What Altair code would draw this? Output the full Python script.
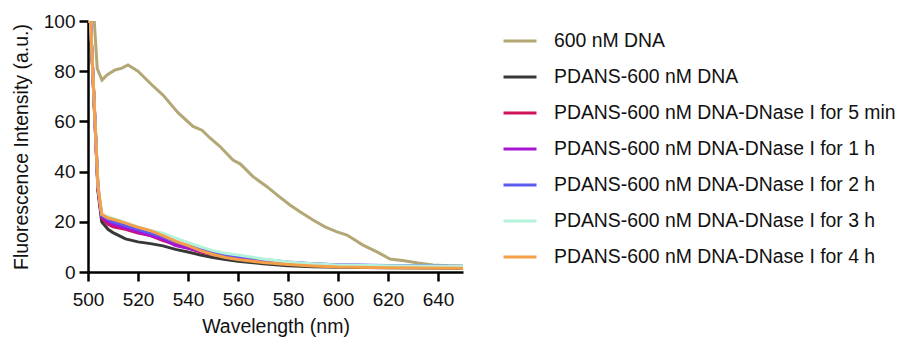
import altair as alt
import pandas as pd

series_names = [
    "600 nM DNA",
    "PDANS-600 nM DNA",
    "PDANS-600 nM DNA-DNase I for 5 min",
    "PDANS-600 nM DNA-DNase I for 1 h",
    "PDANS-600 nM DNA-DNase I for 2 h",
    "PDANS-600 nM DNA-DNase I for 3 h",
    "PDANS-600 nM DNA-DNase I for 4 h",
]
series_colors = ["#b3a776", "#383838", "#d1145c", "#a616d2", "#5c5cf0", "#b5f2da", "#f5a048"]

wl_dna = [500, 502.5, 503.7, 505.6, 507.6, 510.8, 513.6, 516, 520, 525.6, 530, 536,
          542, 545.6, 548.8, 552.8, 558, 561, 566, 571.6, 575.6, 580.8, 584.8, 590,
          594.8, 599.6, 603.6, 610, 615.6, 620.8, 626.5, 632, 638, 644, 650]
dna = [100, 100, 81, 76.5, 78.5, 80.5, 81.2, 82.5, 80, 74.5, 70.5, 63.5,
       58, 56.5, 53.4, 50, 44.6, 43, 38, 34, 30.7, 26.7, 24, 20.7,
       18, 16, 14.7, 10.7, 8, 5.2, 4.5, 3.6, 2.8, 2.5, 2.4]

wl = [500, 501, 504, 505.5, 508, 510, 515, 520, 525, 530, 535, 540, 545, 550,
      555, 560, 570, 580, 590, 600, 620, 650]
pdans = [100, 100, 32, 20, 17, 15.7, 13.2, 12, 11.3, 10.4, 9, 8, 6.8, 5.8,
         5, 4.3, 3.3, 2.5, 2.1, 1.9, 1.7, 1.5]
dnase_5min = [100, 100, 33, 21.5, 19, 18, 17, 15.5, 14.5, 12.5, 11, 9.5, 8, 7,
              6.2, 5.5, 4.3, 3.5, 2.9, 2.5, 2.2, 2.0]
dnase_1h = [100, 100, 33, 22, 20, 19, 17.5, 16, 14.5, 13, 10.5, 9.5, 8.3, 7.3,
            6.5, 5.8, 4.6, 3.8, 3.2, 2.8, 2.5, 2.2]
dnase_2h = [100, 100, 34, 22.5, 21, 20, 18.5, 17, 15.5, 14, 12, 10.5, 9, 7.8,
            7, 6.3, 5, 4, 3.3, 2.9, 2.6, 2.3]
dnase_3h = [100, 100, 34, 23, 22, 21.3, 19.8, 18, 16.5, 15.5, 13.5, 11.8, 10, 8.5,
            7.5, 6.8, 5.2, 4, 3.3, 2.8, 2.5, 2.3]
dnase_4h = [100, 100, 34, 23, 21.5, 21, 19.5, 17.8, 16.5, 14.5, 12.3, 10.5, 8.5, 7,
            5.8, 5, 3.8, 3, 2.4, 2, 1.7, 1.5]

rows = []
for w, v in zip(wl_dna, dna):
    rows.append({"wl": w, "val": v, "series": series_names[0], "order": 0})
for i, vals in enumerate([pdans, dnase_5min, dnase_1h, dnase_2h, dnase_3h, dnase_4h], start=1):
    for w, v in zip(wl, vals):
        rows.append({"wl": w, "val": v, "series": series_names[i], "order": i})
df = pd.DataFrame(rows)

FONT = "Liberation Sans"

chart = alt.Chart(df).mark_line(strokeWidth=3, clip=True).encode(
    x=alt.X("wl:Q", title="Wavelength (nm)",
            scale=alt.Scale(domain=[500, 650], nice=False, zero=False),
            axis=alt.Axis(values=[500, 520, 540, 560, 580, 600, 620, 640],
                          format="d", tickSize=9, tickWidth=2.5, domainWidth=2.5,
                          domainColor="black", tickColor="black", labelColor="#111111",
                          labelFontSize=19, labelFont=FONT, labelPadding=9,
                          titleFont=FONT, titleFontSize=19.5, titleFontWeight="normal",
                          titleColor="#111111", titlePadding=8, grid=False,
                          labelFlush=False)),
    y=alt.Y("val:Q", title="Fluorescence Intensity (a.u.)",
            scale=alt.Scale(domain=[0, 100], nice=False),
            axis=alt.Axis(values=[0, 20, 40, 60, 80, 100], tickSize=9, tickWidth=2.5,
                          domainWidth=2.5, domainColor="black", tickColor="black",
                          labelColor="#111111", labelFontSize=19, labelFont=FONT,
                          labelPadding=4, titleFont=FONT, titleFontSize=19.5,
                          titleFontWeight="normal", titleColor="#111111", titlePadding=12,
                          grid=False, labelFlush=False)),
    color=alt.Color("series:N", sort=series_names,
                    scale=alt.Scale(domain=series_names, range=series_colors),
                    legend=alt.Legend(title=None, orient="none", legendX=414, legendY=2,
                                      symbolType="stroke", symbolSize=1089,
                                      symbolStrokeWidth=3, labelFont=FONT,
                                      labelFontSize=19.4, labelColor="#111111",
                                      labelOffset=16, rowPadding=8, padding=0,
                                      labelLimit=500)),
    order=alt.Order("order:Q"),
    detail="series:N",
).properties(
    width=375, height=251,
    background="white",
    autosize=alt.AutoSizeParams(type="none"),
    padding={"left": 88, "top": 21, "right": 438, "bottom": 66},
).configure_view(stroke=None)

chart.save("out.html", embed_options={"renderer": "svg", "actions": False})
